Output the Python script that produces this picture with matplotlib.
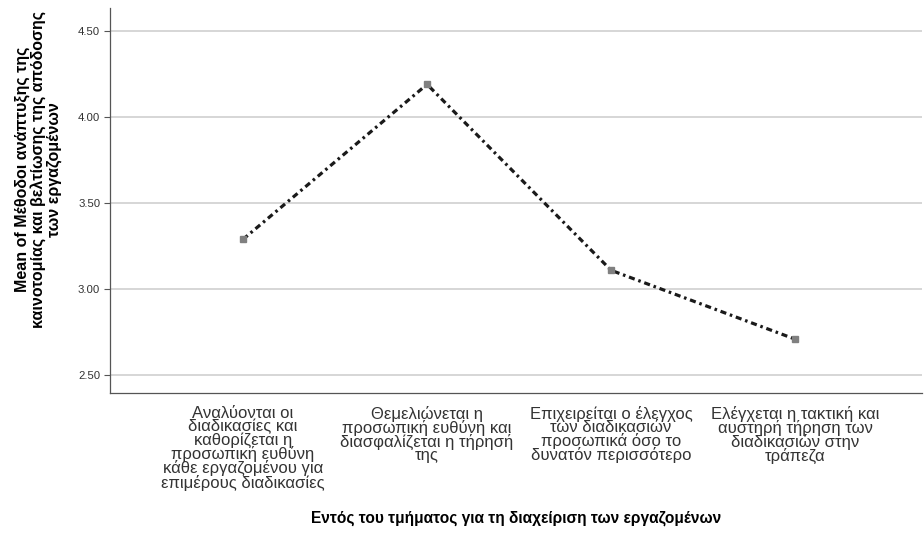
import numpy as np
import matplotlib.pyplot as plt

plt.rcParams['font.family'] = ['Liberation Sans', 'DejaVu Sans']

categories = [
    "Αναλύονται οι\nδιαδικασίες και\nκαθορίζεται η\nπροσωπική ευθύνη\nκάθε εργαζομένου για\nεπιμέρους διαδικασίες",
    "Θεμελιώνεται η\nπροσωπική ευθύνη και\nδιασφαλίζεται η τήρησή\nτης",
    "Επιχειρείται ο έλεγχος\nτων διαδικασιών\nπροσωπικά όσο το\nδυνατόν περισσότερο",
    "Ελέγχεται η τακτική και\nαυστηρή τήρηση των\nδιαδικασιών στην\nτράπεζα",
]
means = [3.29, 4.19, 3.11, 2.71]
yticks = [2.50, 3.00, 3.50, 4.00, 4.50]

fig = plt.figure(figsize=(9.24, 5.49), dpi=100)
ax = fig.add_axes([0.119, 0.284, 0.879, 0.701])

x = np.arange(len(categories))
ax.plot(x, means, color='#1a1a1a', lw=2.3, ls=(0, (1.9, 1.2, 0.8, 1.2)),
        marker='s', ms=5, mfc='#808080', mec='#808080', zorder=3)

ax.set_xlim(-0.723, 3.69)
ax.set_ylim(2.397, 4.632)
ax.set_yticks(yticks)
ax.set_yticklabels([f"{v:.2f}" for v in yticks], fontsize=8.2, color='#333333')
ax.set_xticks(x)
ax.set_xticklabels(categories, fontsize=12, color='#333333', linespacing=0.86)
ax.tick_params(axis='x', length=0, pad=9)
ax.tick_params(axis='y', length=4, width=0.8, color='#555555', pad=3)
ax.grid(axis='y', color='#d0d0d0', lw=1.2)
ax.set_axisbelow(True)

for s in ['top', 'right']:
    ax.spines[s].set_visible(False)
for s in ['left', 'bottom']:
    ax.spines[s].set_color('#555555')
    ax.spines[s].set_linewidth(0.9)

ax.set_ylabel("Mean of Μέθοδοι ανάπτυξης της\nκαινοτομίας και βελτίωσης της απόδοσης\nτων εργαζομένων",
              fontsize=11.5, fontweight='bold', linespacing=1.05)
ax.yaxis.set_label_coords(-0.059, 0.582)
ax.set_xlabel("Εντός του τμήματος για τη διαχείριση των εργαζομένων",
              fontsize=11.2, fontweight='bold')
ax.xaxis.set_label_coords(0.5, -0.305)

fig.savefig('out.png', dpi=100)
